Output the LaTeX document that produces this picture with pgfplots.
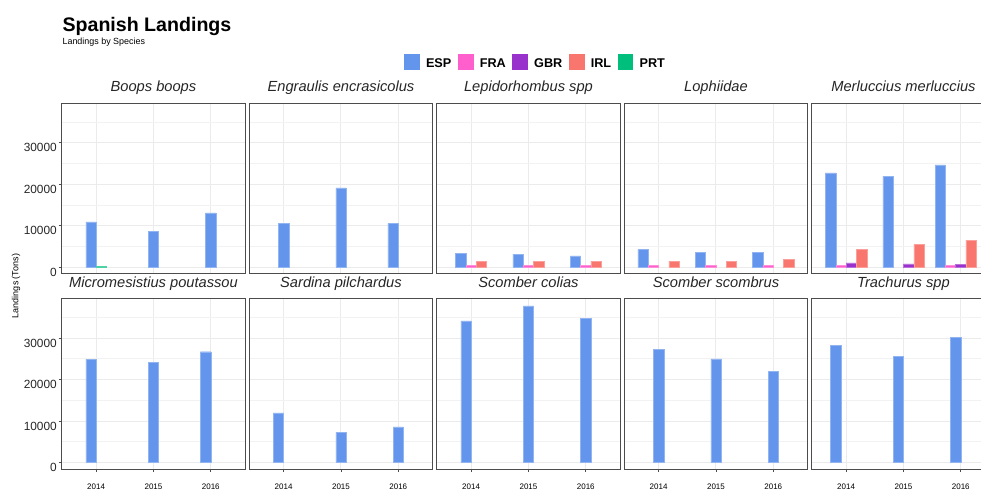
\documentclass[border=0pt]{standalone}
\usepackage{pgfplots}
\pgfplotsset{compat=1.18}
\usepackage{fontspec}
\setmainfont{Liberation Sans}
\definecolor{cESP}{HTML}{6495ED}
\definecolor{cFRA}{HTML}{FF5FCC}
\definecolor{cGBR}{HTML}{9932CC}
\definecolor{cIRL}{HTML}{F8766D}
\definecolor{cPRT}{HTML}{00BF7D}
\definecolor{gridmaj}{HTML}{EBEBEB}
\definecolor{gridmin}{HTML}{F2F2F2}
\pgfplotsset{
  panel/.style={
    scale only axis, width=137.625pt, height=127.875pt,
    anchor=north west,
    xmin=2013.4, xmax=2016.6, ymin=-1600, ymax=39500,
    xtick={2014,2015,2016}, ytick={0,10000,20000,30000},
    minor ytick={5000,15000,25000,35000},
    scaled y ticks=false,
    grid=both,
    major grid style={color=gridmaj, line width=0.7pt},
    minor grid style={color=gridmin, line width=0.6pt},
    axis line style={draw=black!70, line width=0.75pt},
    tick pos=left, tick align=outside,
    major tick length=2.25pt, minor tick length=0pt,
    every tick/.style={draw=black!70, line width=0.6pt},
    ybar, bar width=0.18,
    every axis plot/.append style={bar shift=0pt, line width=0.3pt},
    xticklabels={}, yticklabels={},
    xtick style={draw=none}, ytick style={draw=none},
    title style={font=\fontsize{11}{13}\selectfont\itshape, color=black!85,
      at={(0.5,1)}, anchor=base, yshift=2.5pt, inner sep=0pt},
  },
  firstcol/.style={
    yticklabels={0,10000,20000,30000},
    ytick style={draw=black!70, line width=0.6pt},
    yticklabel style={font=\fontsize{8.9}{10}\selectfont, color=black!85,
      inner sep=0pt, xshift=-1.25pt, yshift=-3.75pt},
  },
  bottomrow/.style={
    xticklabels={2014,2015,2016},
    xtick style={draw=black!70, line width=0.6pt},
    xticklabel style={font=\fontsize{6}{7}\selectfont, color=black,
      inner sep=0pt, yshift=-8.75pt},
  },
}
\begin{document}
\begin{tikzpicture}
% Title and subtitle
\node[anchor=base west, inner sep=0pt, font=\fontsize{14.7}{16}\selectfont\bfseries]
  at ({62.3*0.75pt},{(490-31.7)*0.75pt}) {Spanish Landings};
\node[anchor=base west, inner sep=0pt, font=\fontsize{6.7}{8}\selectfont]
  at ({62.3*0.75pt},{(490-44.3)*0.75pt}) {Landings by Species};
\node[rotate=90, inner sep=0pt, font=\fontsize{6.75}{8}\selectfont]
  at ({16*0.75pt},{(490-286)*0.75pt}) {Landings (Tons)};

% ---------- Top row ----------
\begin{axis}[panel, firstcol, at={({61.7*0.75pt},{(490-103.3)*0.75pt})},
  title={Boops boops},
  legend columns=5,
  legend style={draw=none, fill=none, inner sep=0pt, outer sep=0pt,
    at={(1.867,1.243)}, anchor=west,
    font=\fontsize{9.5}{11}\selectfont\bfseries,
    /tikz/column sep=5pt,
    nodes={inner sep=0pt}},
  ]
\addlegendimage{legend image code/.code={\fill[cESP] (0pt,-3.4pt) rectangle (11pt,7.6pt);}}
\addlegendentry{ESP}
\addlegendimage{legend image code/.code={\fill[cFRA] (0pt,-3.4pt) rectangle (11pt,7.6pt);}}
\addlegendentry{FRA}
\addlegendimage{legend image code/.code={\fill[cGBR] (0pt,-3.4pt) rectangle (11pt,7.6pt);}}
\addlegendentry{GBR}
\addlegendimage{legend image code/.code={\fill[cIRL] (0pt,-3.4pt) rectangle (11pt,7.6pt);}}
\addlegendentry{IRL}
\addlegendimage{legend image code/.code={\fill[cPRT] (0pt,-3.4pt) rectangle (11pt,7.6pt);}}
\addlegendentry{PRT}
\addplot[fill=cESP, draw=cESP!70!white, forget plot] coordinates {(2013.91,10900) (2015,8640) (2016,13070)};
\addplot[fill=cPRT, draw=cPRT!70!white, forget plot] coordinates {(2014.09,350)};
\end{axis}

\begin{axis}[panel, at={({249.2*0.75pt},{(490-103.3)*0.75pt})},
  title={Engraulis encrasicolus}]
\addplot[fill=cESP, draw=cESP!70!white] coordinates {(2014,10560) (2015,19110) (2015.91,10560)};
\end{axis}

\begin{axis}[panel, at={({436.7*0.75pt},{(490-103.3)*0.75pt})},
  title={Lepidorhombus spp}]
\addplot[fill=cESP, draw=cESP!70!white] coordinates {(2013.82,3390) (2014.82,3150) (2015.82,2740)};
\addplot[fill=cFRA, draw=cFRA!70!white] coordinates {(2014,400) (2015,400) (2016,400)};
\addplot[fill=cIRL, draw=cIRL!70!white] coordinates {(2014.18,1450) (2015.18,1450) (2016.18,1450)};
\end{axis}

\begin{axis}[panel, at={({624.2*0.75pt},{(490-103.3)*0.75pt})},
  title={Lophiidae}]
\addplot[fill=cESP, draw=cESP!70!white] coordinates {(2013.73,4270) (2014.73,3630) (2015.73,3630)};
\addplot[fill=cFRA, draw=cFRA!70!white] coordinates {(2013.91,400) (2014.91,400) (2015.91,400)};
\addplot[fill=cIRL, draw=cIRL!70!white] coordinates {(2014.27,1450) (2015.27,1450) (2016.27,1935)};
\end{axis}

\begin{axis}[panel, at={({811.7*0.75pt},{(490-103.3)*0.75pt})},
  title={Merluccius merluccius}]
\addplot[fill=cESP, draw=cESP!70!white] coordinates {(2013.73,22740) (2014.73,21940) (2015.64,24680)};
\addplot[fill=cFRA, draw=cFRA!70!white] coordinates {(2013.91,400) (2015.82,400)};
\addplot[fill=cGBR, draw=cGBR!70!white] coordinates {(2014.09,1050) (2015.09,800) (2016,650)};
\addplot[fill=cIRL, draw=cIRL!70!white] coordinates {(2014.27,4270) (2015.27,5480) (2016.18,6530)};
\end{axis}

% ---------- Bottom row ----------
\begin{axis}[panel, firstcol, bottomrow, at={({61.7*0.75pt},{(490-298.6)*0.75pt})},
  title={Micromesistius poutassou}]
\addplot[fill=cESP, draw=cESP!70!white] coordinates {(2013.91,24920) (2015,24110) (2015.91,26690)};
\end{axis}

\begin{axis}[panel, bottomrow, at={({249.2*0.75pt},{(490-298.6)*0.75pt})},
  title={Sardina pilchardus}]
\addplot[fill=cESP, draw=cESP!70!white] coordinates {(2013.91,11940) (2015,7260) (2016,8550)};
\end{axis}

\begin{axis}[panel, bottomrow, at={({436.7*0.75pt},{(490-298.6)*0.75pt})},
  title={Scomber colias}]
\addplot[fill=cESP, draw=cESP!70!white] coordinates {(2013.91,34110) (2015,37740) (2016,34760)};
\end{axis}

\begin{axis}[panel, bottomrow, at={({624.2*0.75pt},{(490-298.6)*0.75pt})},
  title={Scomber scombrus}]
\addplot[fill=cESP, draw=cESP!70!white] coordinates {(2014,27340) (2015,25000) (2016,21940)};
\end{axis}

\begin{axis}[panel, bottomrow, at={({811.7*0.75pt},{(490-298.6)*0.75pt})},
  title={Trachurus spp}]
\addplot[fill=cESP, draw=cESP!70!white] coordinates {(2013.82,28150) (2014.91,25650) (2015.91,30080)};
\end{axis}

\pgfresetboundingbox
\path (0pt,0pt) rectangle (735.75pt,367.5pt);
\end{tikzpicture}
\end{document}
